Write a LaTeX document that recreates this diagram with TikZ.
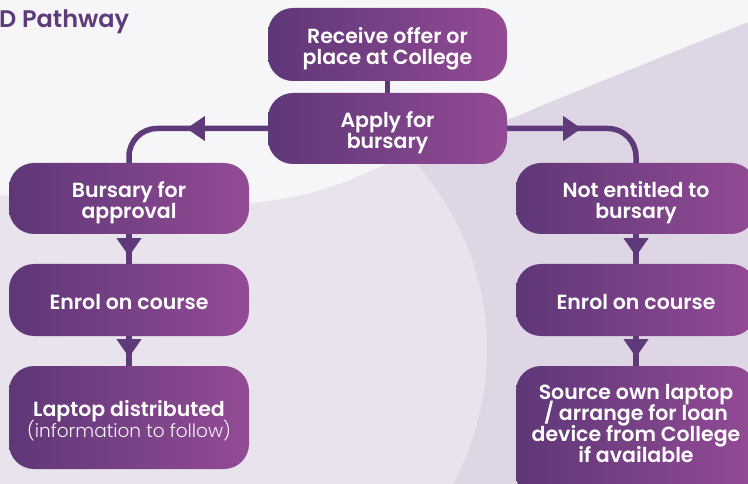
\documentclass[tikz,border=0pt]{standalone}
\usepackage{fontspec}
\setmainfont{Poppins}[BoldFont={Poppins SemiBold}]
\newfontfamily\lightfont{Poppins Light}
\usetikzlibrary{arrows.meta,decorations.markings}
\lineskiplimit=-30pt
\definecolor{bgdark}{HTML}{DED6E4}
\definecolor{bglight}{HTML}{E9E3EE}
\definecolor{bgwhite}{HTML}{F6F5F8}
\definecolor{boxL}{HTML}{5E3777}
\definecolor{boxR}{HTML}{934B95}
\definecolor{linec}{HTML}{5E3A7A}
\definecolor{titlec}{HTML}{5D3B7B}
\newcommand\topln[1]{\raisebox{0pt}[19pt][\depth]{#1}}
\newcommand\botln[1]{\raisebox{0pt}[\height][0pt]{#1}}
\newcommand\oneln[1]{\raisebox{0pt}[19pt][0pt]{#1}}
\tikzset{
  stepbox/.style={rounded corners=25pt, left color=boxL, right color=boxR, draw=none,
    text=white, align=center, inner sep=0pt, minimum width=240pt,
    font=\bfseries\fontsize{20.5}{21}\selectfont},
  conn/.style={draw=linec, line width=5.5pt},
  arr/.style={postaction={decorate, decoration={markings,
    mark=at position #1 with {\arrow[linec]{Triangle[length=18pt,width=25pt,line width=0pt]}}}}}
}
\begin{document}
\begin{tikzpicture}[x=1pt,y=-1pt]
\useasboundingbox (0,0) rectangle (748,484);
\clip (0,0) rectangle (748,484);
% background
\fill[bgdark] (0,0) rectangle (748,484);
\fill[bglight] (207,350) circle (280pt);
\fill[bgwhite] plot[smooth, tension=0.6] coordinates {(748,22) (560,98) (507,120) (390,163) (330,187) (260,202) (150,206) (0,195)} -- (0,0) -- (748,0) -- cycle;
% title
\node[anchor=base west, inner sep=0pt, text=titlec, font=\bfseries\fontsize{24}{26}\selectfont] (title) at (-1,28) {D Pathway};
% boxes
\node[stepbox, minimum width=239pt, minimum height=73pt] (rec) at (387.5,44.5) {\topln{Receive offer or}\\\botln{place at College}};
\node[stepbox, minimum width=239pt, minimum height=71pt] (app) at (387.5,128.5) {\topln{Apply for}\\\botln{bursary}};
\node[stepbox, minimum height=71pt] (bur) at (129,198.5) {\topln{Bursary for}\\\botln{approval}};
\node[stepbox, minimum height=72pt] (enl) at (129,300) {\oneln{Enrol on course}};
\node[stepbox, minimum height=103pt] (lap) at (129,417.5) {\topln{Laptop distributed}\\\botln{\lightfont\mdseries\fontsize{18.5}{21}\selectfont\color{white!92!boxR}(information to follow)}};
\node[stepbox, minimum height=71pt] (not) at (636,198.5) {\topln{Not entitled to}\\\botln{bursary}};
\node[stepbox, minimum height=72pt] (enr) at (636,300) {\oneln{Enrol on course}};
\node[stepbox, minimum height=134pt] (src) at (636,433) {\topln{Source own laptop}\\/ arrange for loan\\device from College\\\raisebox{0pt}[\height][24pt]{if available}};
% connectors
\draw[conn] (rec) -- (app);
\draw[conn, rounded corners=28pt, arr=81pt] (app.west) -| (bur.north);
\draw[conn, rounded corners=28pt, arr=74pt] (app.east) -| (not.north);
\draw[conn, arr=22pt] (bur) -- (enl);
\draw[conn, arr=21pt] (enl) -- (lap);
\draw[conn, arr=22pt] (not) -- (enr);
\draw[conn, arr=21pt] (enr) -- (src);
\end{tikzpicture}
\end{document}
